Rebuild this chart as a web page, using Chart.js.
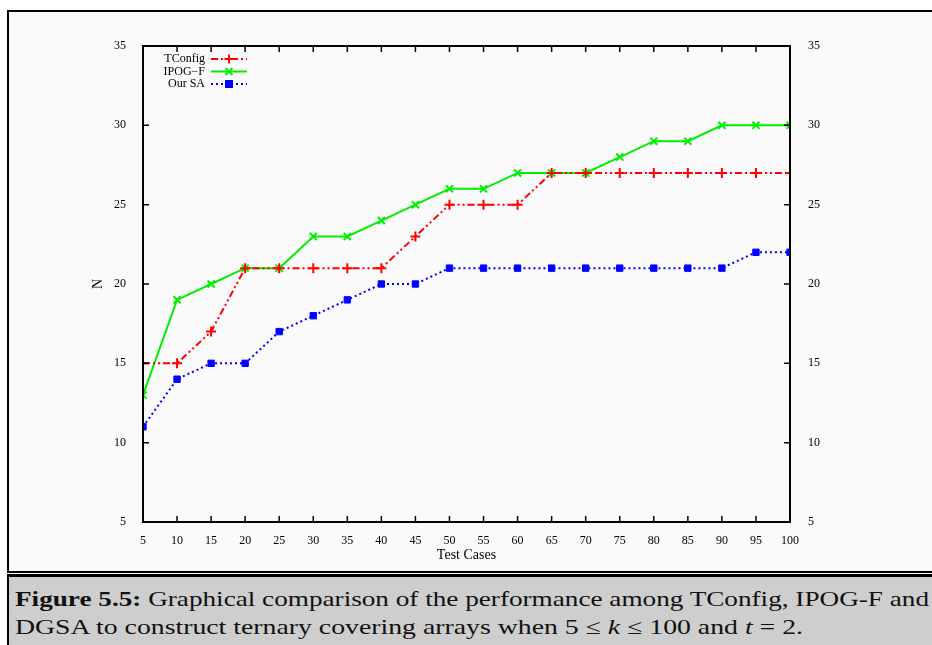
<!DOCTYPE html>
<html>
<head>
<meta charset="utf-8">
<script src="https://cdn.jsdelivr.net/npm/chart.js@4"></script>
<style>
  html, body { margin: 0; padding: 0; background: #ffffff; width: 932px; height: 645px; overflow: hidden; }
  #frame { position: absolute; left: 7px; top: 10px; width: 930px; height: 559px; border: 2px solid #000; background: #fafafa; }
  #cap { position: absolute; left: 7px; top: 574px; width: 930px; height: 80px; border-left: 2px solid #000; border-top: 3px solid #000; background: #cecece; }
  #wrap { position: absolute; left: 0; top: 0; width: 932px; height: 570px; }
  .line { position: absolute; left: 6px; white-space: nowrap; font-family: "Liberation Serif", serif; font-size: 21px; color: #111; transform-origin: 0 0; }
</style>
</head>
<body>
<div id="frame"></div>
<div id="cap">
  <div class="line" id="l1" style="top:10px"><b>Figure 5.5:</b> Graphical comparison of the performance among TConfig, IPOG-F and</div>
  <div class="line" id="l2" style="top:38px">DGSA to construct ternary covering arrays when 5 ≤ <i>k</i> ≤ 100 and <i>t</i> = 2.</div>
</div>
<div id="wrap"><canvas id="c" width="932" height="570"></canvas></div>
<script>
const testCases = [5,10,15,20,25,30,35,40,45,50,55,60,65,70,75,80,85,90,95,100];
const tconfig   = [15,15,17,21,21,21,21,21,23,25,25,25,27,27,27,27,27,27,27,27];
const ipogf     = [13,19,20,21,21,23,23,24,25,26,26,27,27,27,28,29,29,30,30,30];
const ourSA     = [11,14,15,15,17,18,19,20,20,21,21,21,21,21,21,21,21,21,22,22];
const yTicks    = [5,10,15,20,25,30,35];
const xTicks    = testCases;

function pts(vals){ return testCases.map((x,i)=>({x:x, y:vals[i]})); }

const FONT = "Liberation Serif";

const frameTicks = {
  id: 'frameTicks',
  afterDatasetsDraw(chart) {
    const ctx = chart.ctx, a = chart.chartArea;
    const xs = chart.scales.x, ys = chart.scales.y;
    ctx.save();
    ctx.strokeStyle = '#000';
    ctx.lineWidth = 1.5;
    ctx.beginPath();
    xTicks.forEach(v => {
      const px = xs.getPixelForValue(v);
      ctx.moveTo(px, a.bottom); ctx.lineTo(px, a.bottom - 6);
      ctx.moveTo(px, a.top); ctx.lineTo(px, a.top + 6);
    });
    yTicks.forEach(v => {
      const py = ys.getPixelForValue(v);
      ctx.moveTo(a.left, py); ctx.lineTo(a.left + 6, py);
      ctx.moveTo(a.right, py); ctx.lineTo(a.right - 6, py);
    });
    ctx.stroke();
    ctx.lineWidth = 2;
    ctx.strokeRect(a.left, a.top, a.right - a.left, a.bottom - a.top);
    // legend
    const lx = a.left + 62, rowH = 12.5;
    chart.data.datasets.forEach((ds, i) => {
      const y = a.top + 13 + i * rowH;
      ctx.fillStyle = '#000';
      ctx.font = '12px "' + FONT + '"';
      ctx.textAlign = 'right';
      ctx.textBaseline = 'middle';
      ctx.fillText(ds.label, lx, y);
      ctx.strokeStyle = ds.borderColor;
      ctx.lineWidth = 2;
      ctx.setLineDash(ds.borderDash || []);
      ctx.beginPath(); ctx.moveTo(lx + 6, y); ctx.lineTo(lx + 42, y); ctx.stroke();
      ctx.setLineDash([]);
      const cx = lx + 24;
      const r = 4.5;
      ctx.lineWidth = 2;
      ctx.beginPath();
      if (ds.pointStyle === 'cross') {
        ctx.moveTo(cx - r, y); ctx.lineTo(cx + r, y); ctx.moveTo(cx, y - r); ctx.lineTo(cx, y + r);
        ctx.stroke();
      } else if (ds.pointStyle === 'crossRot') {
        ctx.moveTo(cx - 3.5, y - 3.5); ctx.lineTo(cx + 3.5, y + 3.5); ctx.moveTo(cx - 3.5, y + 3.5); ctx.lineTo(cx + 3.5, y - 3.5);
        ctx.stroke();
      } else {
        ctx.fillStyle = ds.borderColor;
        ctx.fillRect(cx - 4, y - 4, 8, 8);
      }
    });
    ctx.restore();
  }
};

new Chart(document.getElementById('c'), {
  type: 'line',
  data: {
    datasets: [
      { label: 'TConfig', data: pts(tconfig), borderColor: '#ff0000', backgroundColor: '#ff0000',
        borderWidth: 2, borderDash: [7,3,2,3,2,3], pointStyle: 'cross', pointRadius: 5, pointBorderWidth: 2, tension: 0 },
      { label: 'IPOG\u2212F', data: pts(ipogf), borderColor: '#00ee00', backgroundColor: '#00ee00',
        borderWidth: 2, pointStyle: 'crossRot', pointRadius: 5, pointBorderWidth: 2, tension: 0 },
      { label: 'Our SA', data: pts(ourSA), borderColor: '#0000ff', backgroundColor: '#0000ff',
        borderWidth: 2, borderDash: [2,3], pointStyle: 'rect', pointRadius: 4.5, pointBorderWidth: 1, tension: 0 }
    ]
  },
  options: {
    responsive: false,
    animation: false,
    layout: { padding: { left: 90, right: 100, top: 46, bottom: 6 } },
    plugins: { legend: { display: false }, tooltip: { enabled: false } },
    scales: {
      x: {
        type: 'linear', min: 5, max: 100,
        afterBuildTicks: s => { s.ticks = xTicks.map(v => ({ value: v })); },
        grid: { display: false }, border: { display: false },
        ticks: { color: '#000', font: { family: FONT, size: 12 }, padding: 4, maxRotation: 0, autoSkip: false },
        title: { display: true, text: 'Test Cases', color: '#000', font: { family: FONT, size: 14 }, padding: { top: 2, bottom: 0 } },
        afterFit: s => { s.height = 42; }
      },
      y: {
        type: 'linear', position: 'left', min: 5, max: 35,
        afterBuildTicks: s => { s.ticks = yTicks.map(v => ({ value: v })); },
        grid: { display: false }, border: { display: false },
        ticks: { color: '#000', font: { family: FONT, size: 12 }, padding: 9 },
        title: { display: true, text: 'N', color: '#000', font: { family: FONT, size: 14 }, padding: 0 },
        afterFit: s => { s.width = 53; }
      },
      y2: {
        type: 'linear', position: 'right', min: 5, max: 35,
        afterBuildTicks: s => { s.ticks = yTicks.map(v => ({ value: v })); },
        grid: { display: false }, border: { display: false },
        ticks: { color: '#000', font: { family: FONT, size: 12 }, padding: 10 },
        afterFit: s => { s.width = 42; }
      }
    }
  },
  plugins: [frameTicks]
});

// fit caption lines to the caption width
[['l1', 914], ['l2', 788]].forEach(([id, w]) => {
  const el = document.getElementById(id);
  const cw = el.getBoundingClientRect().width;
  el.style.transform = 'scaleX(' + (w / cw) + ')';
});
</script>
</body>
</html>
